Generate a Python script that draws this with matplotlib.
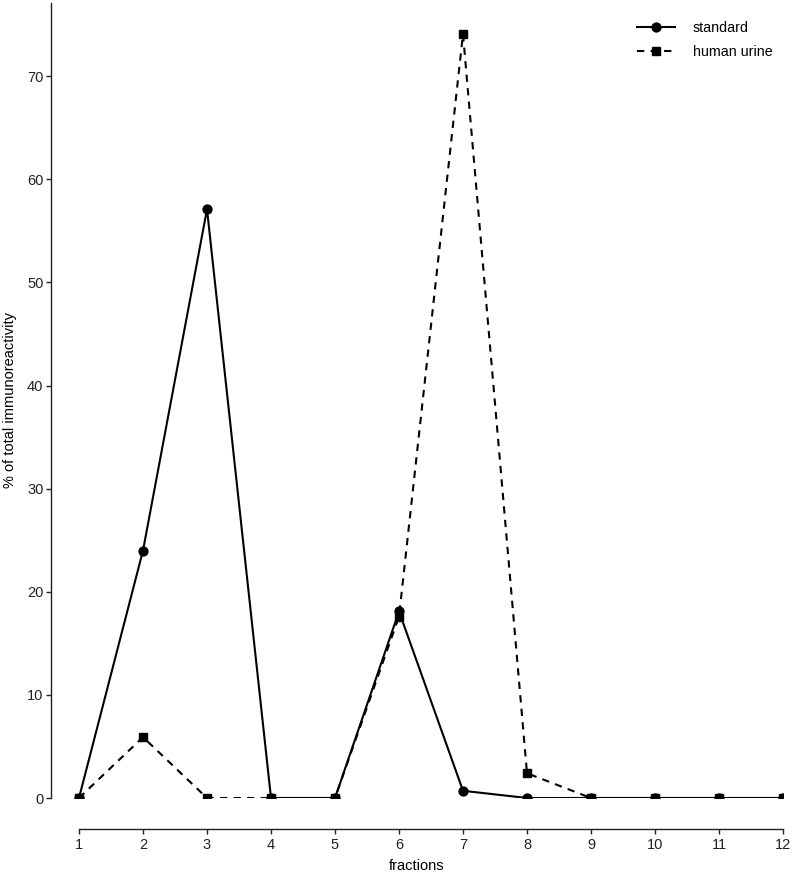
import matplotlib.pyplot as plt
import numpy as np

plt.rcParams['font.family'] = ['Liberation Sans', 'DejaVu Sans']

fractions = np.arange(1, 13)
standard = [0, 24.0, 57.1, 0, 0, 18.1, 0.7, 0, 0, 0, 0, 0]
human_urine = [0, 5.9, 0, 0, 0, 17.6, 74.1, 2.4, 0, 0, 0, 0]

fig = plt.figure(figsize=(7.93, 8.77), dpi=100)
ax = fig.add_axes([51 / 793, 79 / 877, (783 - 51) / 793, 795 / 877])

ax.plot(fractions, human_urine, color='black', linestyle=(0, (3.5, 3)), linewidth=1.5,
        marker='s', markersize=5.6, label='human urine', zorder=3)
ax.plot(fractions, standard, color='black', linestyle='-', linewidth=1.5,
        marker='o', markersize=6.4, label='standard', zorder=4)

ax.set_xlim(0.5625, 12)
ax.set_ylim(0, 77.1)
ax.set_xticks(fractions)
ax.set_yticks(np.arange(0, 80, 10))

ax.spines['top'].set_visible(False)
ax.spines['right'].set_visible(False)
ax.spines['bottom'].set_position(('outward', 22.3))
ax.spines['bottom'].set_bounds(1, 12)
ax.spines['left'].set_bounds(0, 77.1)
for s in ['left', 'bottom']:
    ax.spines[s].set_linewidth(1.0)
    ax.spines[s].set_color('#222222')
ax.tick_params(direction='out', length=3.5, width=1.0, labelsize=10.5, colors='#222222')
ax.tick_params(axis='x', pad=3)
ax.tick_params(axis='y', pad=2)

ax.set_xlabel('fractions', fontsize=10.5, labelpad=5)
ax.set_ylabel('% of total immunoreactivity', fontsize=10.5, labelpad=7)

handles, labels = ax.get_legend_handles_labels()
ax.legend(handles[::-1], labels[::-1], loc='upper right', frameon=False, fontsize=10.3,
          handlelength=2.6, handletextpad=1.25, labelspacing=0.74,
          bbox_to_anchor=(1.003, 0.994))

fig.savefig('out.png', dpi=100)
